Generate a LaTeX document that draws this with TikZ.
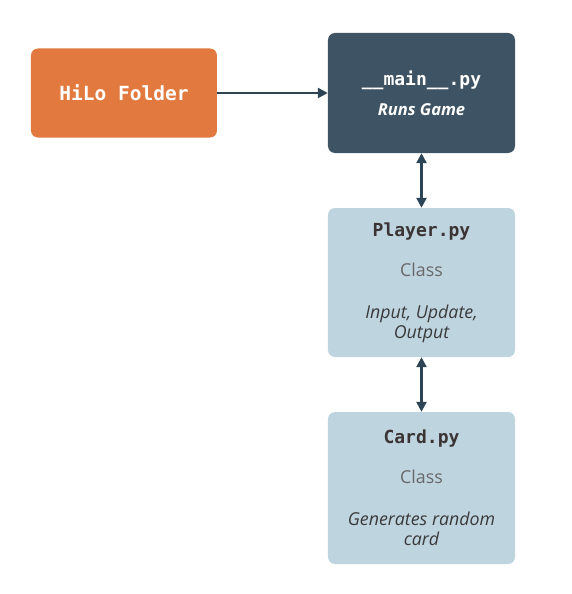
\documentclass[tikz,border=0pt]{standalone}
\usepackage{fontspec}
\setmainfont{Open Sans}
\newfontfamily\codefont{DejaVu Sans Mono}
\usetikzlibrary{shapes.geometric, arrows.meta}
\definecolor{hiloorange}{HTML}{E27A3F}
\definecolor{maindark}{HTML}{3E5464}
\definecolor{classblue}{HTML}{BED4DF}
\definecolor{arrowdark}{HTML}{2C4454}
\definecolor{titledark}{HTML}{3B3434}
\definecolor{classgray}{HTML}{686868}
\definecolor{notedark}{HTML}{3A3A3A}
\tikzstyle{folder} = [rectangle, rounded corners=7pt, minimum width=186pt, minimum height=89pt, text centered, fill=hiloorange, text=white, font=\codefont\bfseries\fontsize{19.5}{23}\selectfont]
\tikzstyle{script} = [rectangle, rounded corners=7pt, minimum width=187pt, minimum height=120pt, align=center, fill=maindark, text=white, font=\fontsize{16.5}{20}\selectfont]
\tikzstyle{module} = [rectangle, rounded corners=7pt, minimum width=187pt, minimum height=149pt, align=center, fill=classblue, font=\fontsize{17.8}{20}\selectfont]
\tikzstyle{arrow} = [line width=2.4pt, draw=arrowdark, -{Triangle[length=10pt,width=10pt]}]
\tikzstyle{twoway} = [line width=2.4pt, draw=arrowdark, {Triangle[length=10pt,width=10pt]}-{Triangle[length=10pt,width=10pt]}]
\newcommand{\filename}[1]{{\codefont\bfseries\fontsize{18}{20}\selectfont #1}}

\begin{document}
\begin{tikzpicture}[node distance=190pt]
\useasboundingbox (-421.5pt,93pt) rectangle (149.5pt,-501pt);
\node (main) [script]{\filename{\_\_main\_\_.py}\\[10pt]\textbf{\textit{Runs Game}}};
\node (hilo) [folder, left of = main, xshift = -107.5pt]{HiLo Folder};
\node (player) [module, below of = main, yshift = 0.5pt]{\textcolor{titledark}{\filename{Player.py}}\\[20pt]\textcolor{classgray}{Class}\\[22pt]\textcolor{notedark}{\itshape Input, Update,}\\\textcolor{notedark}{\itshape Output}};
\node (card) [module, below of = player, yshift = -15.5pt, minimum height = 152pt]{\textcolor{titledark}{\filename{Card.py}}\\[20pt]\textcolor{classgray}{Class}\\[22pt]\textcolor{notedark}{\itshape Generates random}\\\textcolor{notedark}{\itshape card}};
\draw [arrow] (hilo) -- (main);
\draw [twoway] (main) -- (player);
\draw [twoway] (player) -- (card);
\end{tikzpicture}
\end{document}
